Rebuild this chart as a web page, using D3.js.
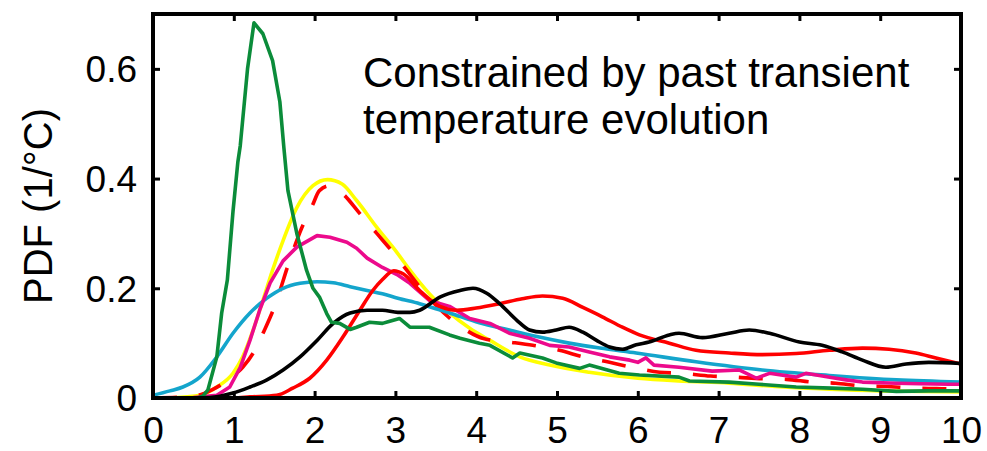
<!DOCTYPE html>
<html><head><meta charset="utf-8">
<script src="https://cdn.jsdelivr.net/npm/d3@7"></script>
<style>
html,body{margin:0;padding:0;background:#fff;}
svg text{font-family:"Liberation Sans",Arial,Helvetica,sans-serif;fill:#000;}
</style></head>
<body>
<svg id="chart" width="987" height="451"></svg>
<script>
// ---- data ----
const xTicks = [0,1,2,3,4,5,6,7,8,9,10];
const yTicks = [0,0.2,0.4,0.6];
const yTickLabels = ["0","0.2","0.4","0.6"];
const yLabel = "PDF (1/°C)";
const noteLines = ["Constrained by past transient","temperature evolution"];

const yellowX = [0,0.3,0.58,0.79,0.99,1.11,1.24,1.36,1.48,1.61,1.78,1.98,2.16,2.34,2.52,2.77,3.02,3.18,3.42,3.67,3.92,4.17,4.54,4.91,5.4,6.0,6.5,7.13,7.7,8.37,9.0,9.5,10];
const yellowY = [0,0.001,0.005,0.02,0.045,0.075,0.124,0.178,0.233,0.287,0.347,0.387,0.398,0.39,0.36,0.311,0.265,0.233,0.19,0.155,0.127,0.105,0.075,0.06,0.047,0.036,0.031,0.027,0.021,0.016,0.013,0.012,0.011];

const redDashX = [0,0.5,0.73,0.95,1.11,1.24,1.38,1.5,1.69,1.84,1.97,2.06,2.19,2.35,2.56,2.77,3.0,3.14,3.4,3.6,3.82,4.1,4.41,4.7,5.03,5.32,5.65,5.93,6.27,6.55,6.9,7.2,7.54,7.84,8.15,8.45,8.78,9.07,9.4,9.7,10];
const redDashY = [0,0.003,0.015,0.035,0.056,0.082,0.124,0.165,0.25,0.31,0.35,0.378,0.387,0.372,0.336,0.3,0.26,0.233,0.185,0.155,0.129,0.108,0.102,0.096,0.087,0.075,0.065,0.056,0.047,0.045,0.04,0.038,0.035,0.034,0.029,0.027,0.022,0.021,0.018,0.017,0.016];

const blueX = [0,0.21,0.37,0.58,0.79,0.99,1.2,1.41,1.61,1.82,2.03,2.23,2.44,2.65,2.84,3.03,3.3,3.67,4.04,4.41,4.78,5.15,5.53,5.98,6.72,7.54,8.37,9.2,10];
const blueY = [0.005,0.013,0.02,0.038,0.075,0.118,0.155,0.182,0.2,0.209,0.212,0.21,0.203,0.196,0.19,0.182,0.172,0.155,0.137,0.124,0.111,0.1,0.091,0.082,0.066,0.051,0.041,0.033,0.029];

const pinkX = [0,0.5,0.79,0.95,1.08,1.2,1.32,1.45,1.61,1.78,2.03,2.19,2.4,2.52,2.65,2.84,3.02,3.18,3.42,3.67,3.92,4.17,4.41,4.66,4.91,5.15,5.4,5.65,5.9,6.0,6.1,6.2,6.51,6.92,7.26,7.47,7.63,7.96,8.08,8.45,8.58,8.78,9.2,9.5,9.85,10];
const pinkY = [0,0.001,0.005,0.02,0.056,0.105,0.16,0.21,0.25,0.275,0.296,0.293,0.284,0.273,0.255,0.238,0.225,0.209,0.178,0.167,0.145,0.136,0.118,0.109,0.096,0.093,0.084,0.075,0.069,0.065,0.073,0.06,0.056,0.049,0.051,0.036,0.045,0.038,0.045,0.036,0.033,0.029,0.027,0.026,0.025,0.025];

const redX = [0,1.0,1.2,1.53,1.73,1.94,2.15,2.35,2.56,2.72,2.84,2.98,3.1,3.3,3.55,3.76,4.0,4.29,4.57,4.82,5.07,5.32,5.56,5.81,6.02,6.39,6.72,7.13,7.54,7.96,8.37,8.78,9.11,9.44,9.69,10];
const redY = [0,0,0.002,0.005,0.018,0.036,0.069,0.111,0.16,0.196,0.216,0.232,0.226,0.196,0.167,0.16,0.164,0.172,0.181,0.186,0.182,0.165,0.148,0.129,0.115,0.1,0.087,0.082,0.079,0.081,0.087,0.091,0.089,0.082,0.073,0.062];

const blackX = [0,0.7,0.99,1.2,1.41,1.61,1.82,2.03,2.23,2.44,2.65,2.84,3.03,3.18,3.3,3.55,3.8,3.96,4.13,4.29,4.5,4.66,4.82,4.99,5.15,5.32,5.49,5.65,5.81,5.98,6.14,6.39,6.51,6.8,7.13,7.38,7.63,8.0,8.28,8.53,8.78,9.07,9.32,9.6,10];
const blackY = [0,0.001,0.009,0.02,0.033,0.051,0.075,0.105,0.136,0.155,0.16,0.16,0.156,0.156,0.16,0.184,0.196,0.2,0.191,0.172,0.142,0.124,0.12,0.124,0.129,0.12,0.105,0.093,0.089,0.097,0.102,0.115,0.118,0.11,0.118,0.124,0.118,0.102,0.096,0.084,0.069,0.056,0.062,0.065,0.063];

const greenX = [0,0.55,0.62,0.68,0.79,0.85,0.92,0.99,1.05,1.08,1.17,1.25,1.36,1.48,1.57,1.62,1.67,1.78,1.9,1.98,2.06,2.15,2.21,2.31,2.44,2.52,2.68,2.84,2.93,3.05,3.18,3.42,3.67,3.8,4.04,4.17,4.45,4.54,4.82,4.99,5.28,5.4,5.77,6.02,6.51,6.64,7.13,7.5,7.96,8.4,8.78,9.2,9.6,10];
const greenY = [0,0,0.004,0.015,0.075,0.155,0.215,0.34,0.43,0.46,0.6,0.684,0.664,0.615,0.54,0.456,0.378,0.3,0.233,0.2,0.184,0.154,0.138,0.136,0.125,0.129,0.138,0.136,0.14,0.145,0.129,0.129,0.115,0.109,0.1,0.096,0.073,0.082,0.073,0.064,0.054,0.06,0.045,0.042,0.038,0.031,0.029,0.025,0.02,0.018,0.016,0.012,0.013,0.013];

// ---- layout ----
const L = 153, R = 961, T = 14, B = 398;
const svg = d3.select("#chart");
const x = d3.scaleLinear().domain([0,10]).range([L,R]);
const y = d3.scaleLinear().domain([0,0.7]).range([B,T]);

const series = [
  {xs:yellowX, ys:yellowY, color:"#ffff00", dash:null, curve:d3.curveMonotoneX},
  {xs:redDashX, ys:redDashY, color:"#ff0000", dash:"24,22", curve:d3.curveMonotoneX},
  {xs:blueX, ys:blueY, color:"#14a5cc", dash:null, curve:d3.curveMonotoneX},
  {xs:pinkX, ys:pinkY, color:"#ec0a8c", dash:null, curve:d3.curveLinear},
  {xs:redX, ys:redY, color:"#ff0000", dash:null, curve:d3.curveMonotoneX},
  {xs:blackX, ys:blackY, color:"#000000", dash:null, curve:d3.curveMonotoneX},
  {xs:greenX, ys:greenY, color:"#0b8c3a", dash:null, curve:d3.curveLinear}
];

svg.append("clipPath").attr("id","clip").append("rect")
  .attr("x",L).attr("y",T).attr("width",R-L).attr("height",B-T);

const g = svg.append("g").attr("clip-path","url(#clip)");
series.forEach(s=>{
  const pts = s.xs.map((v,i)=>[v,s.ys[i]]);
  const line = d3.line().x(d=>x(d[0])).y(d=>y(d[1])).curve(s.curve);
  g.append("path").datum(pts).attr("d",line)
    .attr("fill","none").attr("stroke",s.color).attr("stroke-width",3.6)
    .attr("stroke-linejoin","round")
    .attr("stroke-dasharray",s.dash);
});

// axes: ticks inward on all sides
const tickLen = 7;
const axB = svg.append("g").attr("transform",`translate(0,${B})`)
  .call(d3.axisBottom(x).tickValues(xTicks).tickSize(-tickLen).tickPadding(18.5).tickFormat(d3.format("d")));
const axT = svg.append("g").attr("transform",`translate(0,${T})`)
  .call(d3.axisTop(x).tickValues(xTicks).tickSize(-tickLen).tickFormat(""));
const axL = svg.append("g").attr("transform",`translate(${L},0)`)
  .call(d3.axisLeft(y).tickValues(yTicks).tickSize(-tickLen).tickPadding(16).tickFormat((d,i)=>yTickLabels[i]));
const axR = svg.append("g").attr("transform",`translate(${R},0)`)
  .call(d3.axisRight(y).tickValues(yTicks).tickSize(-tickLen).tickFormat(""));
[axB,axT,axL,axR].forEach(a=>{
  a.select(".domain").remove();
  a.selectAll(".tick line").attr("stroke","#000").attr("stroke-width",3);
  a.selectAll(".tick text").style("font-size","37px").attr("fill","#000");
});
axB.selectAll(".tick text").attr("dy","0.71em");
axL.selectAll(".tick text").attr("dy","0.35em");

svg.append("rect").attr("x",L).attr("y",T).attr("width",R-L).attr("height",B-T)
  .attr("fill","none").attr("stroke","#000").attr("stroke-width",4);

svg.append("text").attr("transform",`translate(52,${(T+B)/2}) rotate(-90)`)
  .attr("text-anchor","middle").style("font-size","40px").text(yLabel);

noteLines.forEach((t,i)=>{
  svg.append("text").attr("x",363).attr("y",87+i*47).style("font-size","42px").text(t);
});
</script>
</body></html>
